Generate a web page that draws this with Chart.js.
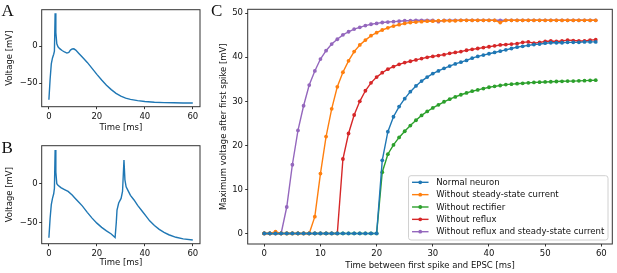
<!DOCTYPE html>
<html><head><meta charset="utf-8">
<script src="https://cdn.jsdelivr.net/npm/chart.js@4"></script>
<style>
html,body{margin:0;padding:0;background:#fff;width:617px;height:273px;overflow:hidden;}
canvas{position:absolute;}
.lbl{position:absolute;font-family:"Liberation Serif","DejaVu Serif",serif;font-size:17px;color:#111;line-height:1;}
</style></head><body>
<canvas id="cA" width="210" height="135" style="left:0px;top:0px"></canvas>
<canvas id="cB" width="210" height="138" style="left:0px;top:135px"></canvas>
<canvas id="cC" width="407" height="273" style="left:210px;top:0px"></canvas>
<div class="lbl" style="left:1.5px;top:2px">A</div>
<div class="lbl" style="left:1.5px;top:138.7px">B</div>
<div class="lbl" style="left:211px;top:2px">C</div>
<script>
// ---------- Panel A data ----------
const tA = [0,0.5,1,1.5,2,2.3,2.6,2.9,3.3,3.8,4.5,5.5,6.5,7.5,8.3,9,9.7,10.4,11.2,12.5,14,16,18,20,22,24,26,28,30,32,34,37,40,44,48,52,56,60];
const vA = [-72,-45,-24,-16,-11,-7,44,18,3,-1,-3.5,-6,-8,-9.5,-8.5,-5.5,-4,-3.8,-5.5,-10,-15,-22,-30,-38,-45.5,-52.5,-58.5,-63.5,-67.3,-70,-71.5,-73.2,-74.5,-75.4,-75.9,-76.2,-76.4,-76.5];
// ---------- Panel B data ----------
const tB = [0,0.5,1,1.5,2,2.3,2.6,2.9,3.3,3.8,5,6.5,8,9.7,11,12.5,14,16,18,20,22,24,26,27.6,28.1,28.4,29.1,30.1,30.7,31.3,31.7,32.2,33,34,35.5,37,39,40.5,42,44,46,48,50,53,56,60];
const vB = [-70,-45,-27,-19,-13,-6,43.5,15,0,-2,-5,-7.5,-10,-14.5,-19,-24,-29,-37,-44.5,-51,-56.5,-61,-65,-69.5,-50,-34,-25,-19,-10,30.7,5,-4,-9,-15,-21,-28,-36,-42,-48,-54,-59,-63,-66,-69.3,-71.3,-72.8];
const abXTicks = [0,20,40,60];
const abYTicks = [-50,0];
// ---------- Panel C data ----------
const delays = [0,1,2,3,4,5,6,7,8,9,10,11,12,13,14,15,16,17,18,19,20,21,22,23,24,25,26,27,28,29,30,31,32,33,34,35,36,37,38,39,40,41,42,43,44,45,46,47,48,49,50,51,52,53,54,55,56,57,58,59];
const normalNeuron = [0,0,0,0,0,0,0,0,0,0,0,0,0,0,0,0,0,0,0,0,0,
  16.6,23.1,26.5,28.8,30.6,32.2,33.5,34.6,35.5,36.3,36.9,37.5,38.0,38.5,38.9,39.3,39.8,40.2,40.5,40.8,41.1,41.4,41.7,42.0,42.3,42.5,42.7,42.9,43.0,43.2,43.3,43.3,43.3,43.4,43.4,43.4,43.5,43.5,43.5];
const noSteadyState = [0,0,0.4,0,0,0,0,0,0,
  3.8,13.6,22.0,28.3,33.3,36.6,39.2,41.3,42.8,43.9,44.9,45.6,46.2,46.7,47.1,47.4,47.7,47.9,48.0,48.1,48.2,48.2,48.3,48.3,48.3,48.3,48.4,48.4,48.4,48.4,48.4,48.4,48.4,47.9,48.4,48.4,48.4,48.4,48.4,48.4,48.4,48.4,48.4,48.4,48.4,48.4,48.4,48.4,48.4,48.4,48.4];
const noRectifier = [0,0,0,0,0,0,0,0,0,0,0,0,0,0,0,0,0,0,0,0,0,
  13.9,18.0,20.1,21.8,23.2,24.5,25.7,26.8,27.7,28.5,29.2,29.9,30.5,31.0,31.5,31.9,32.3,32.6,32.9,33.2,33.4,33.6,33.8,33.9,34.0,34.1,34.2,34.3,34.35,34.4,34.45,34.5,34.55,34.6,34.6,34.65,34.7,34.75,34.8];
const noReflux = [0,0,0,0,0,0,0,0,0,0,0,0,0,0,
  16.9,22.7,26.9,30.0,32.4,34.2,35.5,36.5,37.3,37.9,38.4,38.8,39.1,39.4,39.7,40.0,40.2,40.4,40.6,40.9,41.1,41.3,41.6,41.8,42.0,42.2,42.4,42.6,42.8,42.9,43.0,43.1,43.4,43.5,43.2,43.4,43.6,43.7,43.6,43.7,43.9,43.8,43.7,43.7,43.9,44.0];
const noRefluxNoSteady = [0,0,0,0,
  6.0,15.6,23.4,29.0,33.7,36.9,39.6,41.5,43.0,44.1,45.1,45.8,46.4,46.8,47.2,47.5,47.7,47.9,48.0,48.1,48.2,48.3,48.3,48.4,48.4,48.4,48.4,48.1,48.4,48.4,48.4,48.4,48.4,48.4,48.4,48.4,48.4,48.4,48.4,48.4,48.4,48.4,48.4,48.4,48.4,48.4,48.4,48.4,48.4,48.4,48.4,48.4,48.4,48.4,48.4,48.4];
const seriesNames = ['Normal neuron','Without steady-state current','Without rectifier','Without reflux','Without reflux and steady-state current'];
const seriesColors = ['#1f77b4','#ff7f0e','#2ca02c','#d62728','#9467bd'];
const cXTicks = [0,10,20,30,40,50,60];
const cYTicks = [0,10,20,30,40,50];

const FONT = {family:'"DejaVu Sans", sans-serif', size:8.5};
const TXT = '#111';
const fmt = v => v < 0 ? '\u2212' + Math.abs(v) : String(v);
const pts = (xs, ys) => xs.map((x,i)=>({x:x, y:ys[i]}));

const boxPlugin = {id:'box', afterDatasetsDraw(chart){
  const a = chart.chartArea, c = chart.ctx;
  c.save(); c.strokeStyle = '#333'; c.lineWidth = 1;
  c.strokeRect(a.left, a.top, a.right - a.left, a.bottom - a.top);
  c.restore();
}};

function opts(o){
  return {
    responsive:false, animation:false, devicePixelRatio:1,
    layout:{padding:o.pad},
    plugins:{legend:{display:false}, tooltip:{enabled:false}},
    elements:{line:{tension:0}},
    scales:{
      x:{type:'linear', min:o.xmin, max:o.xmax,
        afterBuildTicks:s=>{s.ticks = o.xticks.map(v=>({value:v}));},
        afterFit:s=>{s.height = o.xH;},
        grid:{drawOnChartArea:false, drawTicks:true, tickLength:2.5, color:'#333', lineWidth:1},
        border:{display:false},
        ticks:{font:FONT, color:TXT, padding:o.xPad, maxRotation:0, autoSkip:false, callback:fmt},
        title:{display:true, text:o.xtitle, font:FONT, color:TXT, padding:{top:0, bottom:o.xtp}}
      },
      y:{type:'linear', min:o.ymin, max:o.ymax,
        afterBuildTicks:s=>{s.ticks = o.yticks.map(v=>({value:v}));},
        afterFit:s=>{s.width = o.yW;},
        grid:{drawOnChartArea:false, drawTicks:true, tickLength:2.5, color:'#333', lineWidth:1},
        border:{display:false},
        ticks:{font:FONT, color:TXT, padding:o.yPad, autoSkip:false, callback:fmt},
        title:{display:true, text:o.ytitle, font:FONT, color:TXT, padding:{top:o.ytp, bottom:0}}
      }
    }
  };
}

function traceDs(xs, ys){
  return [{data:pts(xs,ys), borderColor:'#1f77b4', borderWidth:1.4, pointRadius:0, fill:false}];
}

new Chart(document.getElementById('cA'), {
  type:'line', data:{datasets:traceDs(tA, vA)},
  options:opts({pad:{left:0,right:10,top:9.7,bottom:0}, xmin:-3, xmax:63, ymin:-81.4, ymax:48.7,
    xticks:abXTicks, yticks:abYTicks, xH:28.3, yW:41.7, xPad:2.5, yPad:1.5, xtp:2.2, ytp:4.9,
    xtitle:'Time [ms]', ytitle:'Voltage [mV]'}),
  plugins:[boxPlugin]
});

new Chart(document.getElementById('cB'), {
  type:'line', data:{datasets:traceDs(tB, vB)},
  options:opts({pad:{left:0,right:10,top:10.7,bottom:0}, xmin:-3, xmax:63, ymin:-77.6, ymax:49.2,
    xticks:abXTicks, yticks:abYTicks, xH:29.3, yW:41.7, xPad:2, yPad:1.5, xtp:5.2, ytp:4.9,
    xtitle:'Time [ms]', ytitle:'Voltage [mV]'}),
  plugins:[boxPlugin]
});

const cSeries = [normalNeuron, noSteadyState, noRectifier, noReflux, noRefluxNoSteady];
const legendPlugin = {id:'boxLegend', afterDraw(chart){
  const a = chart.chartArea, c = chart.ctx;
  c.save();
  c.font = '8.5px "DejaVu Sans", sans-serif';
  let maxW = 0;
  seriesNames.forEach(n=>{ maxW = Math.max(maxW, c.measureText(n).width); });
  const w = 27.7 + maxW + 3.7, h = 64.3;
  const x0 = a.right - 4.3 - w, y0 = a.bottom - 4 - h;
  c.beginPath();
  if (c.roundRect) c.roundRect(x0, y0, w, h, 2.5); else c.rect(x0, y0, w, h);
  c.fillStyle = 'rgba(255,255,255,0.85)'; c.fill();
  c.strokeStyle = '#d0d0d0'; c.lineWidth = 1; c.stroke();
  seriesNames.forEach((n,i)=>{
    const y = y0 + 6.6 + i*12.35;
    c.strokeStyle = seriesColors[i]; c.lineWidth = 1.4;
    c.beginPath(); c.moveTo(x0+3.5, y); c.lineTo(x0+20, y); c.stroke();
    c.fillStyle = seriesColors[i];
    c.beginPath(); c.arc(x0+11.7, y, 1.9, 0, Math.PI*2); c.fill();
    c.fillStyle = TXT; c.textAlign = 'left'; c.textBaseline = 'middle';
    c.fillText(n, x0+27.7, y+0.5);
  });
  c.restore();
}};

new Chart(document.getElementById('cC'), {
  type:'line',
  data:{datasets:cSeries.map((s,i)=>({label:seriesNames[i], data:pts(delays, s),
    borderColor:seriesColors[i], backgroundColor:seriesColors[i], borderWidth:1.4,
    pointRadius:1.9, pointBorderWidth:0, pointBackgroundColor:seriesColors[i], fill:false}))},
  options:opts({pad:{left:0,right:4.7,top:9.3,bottom:0}, xmin:-2.95, xmax:61.95, ymin:-2.4, ymax:50.9,
    xticks:cXTicks, yticks:cYTicks, xH:29, yW:37.7, xPad:2.1, yPad:2.2, xtp:2.2, ytp:8.4,
    xtitle:'Time between first spike and EPSC [ms]', ytitle:'Maximum voltage after first spike [mV]'}),
  plugins:[boxPlugin, legendPlugin]
});
</script>
</body></html>
